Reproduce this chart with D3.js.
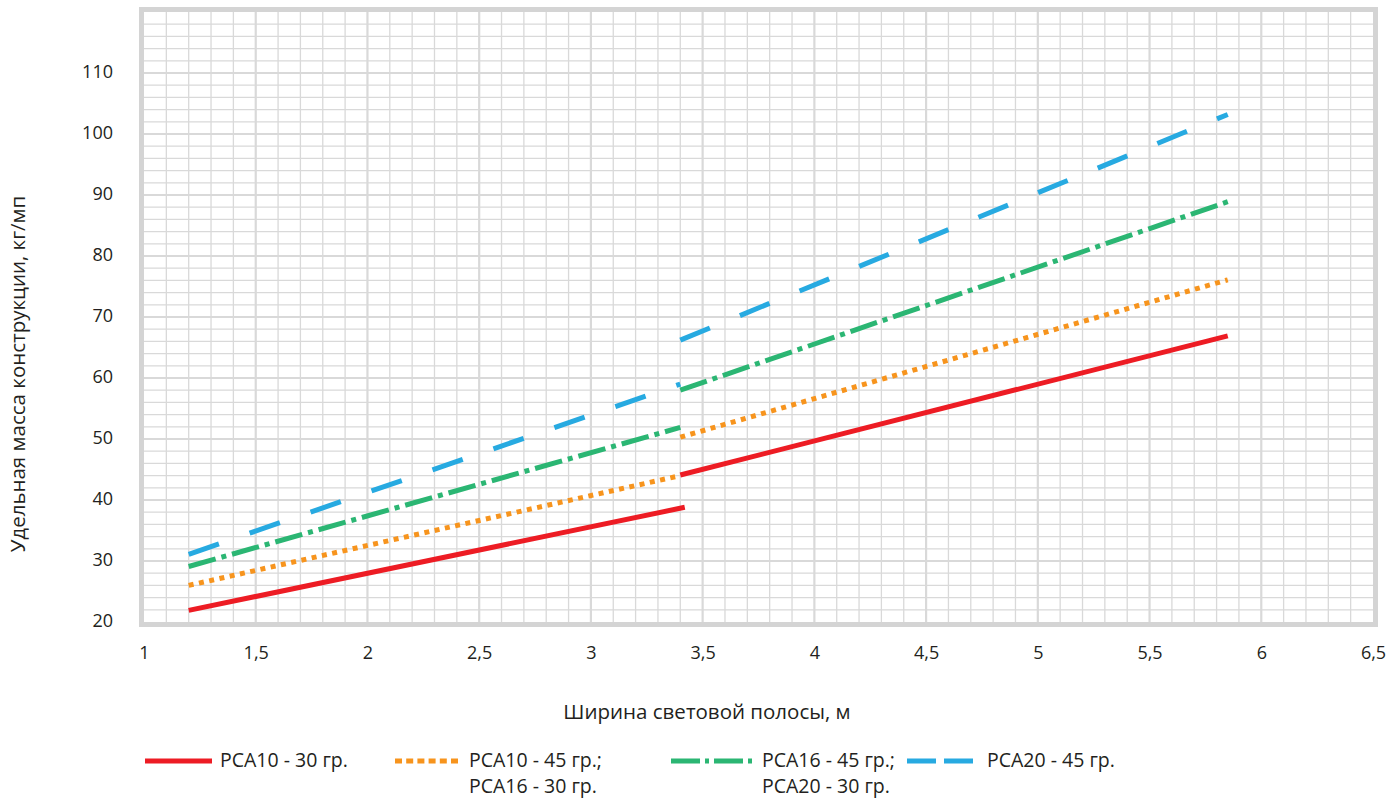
<!DOCTYPE html>
<html>
<head>
<meta charset="utf-8">
<script src="https://d3js.org/d3.v7.min.js"></script>
<style>
body {margin: 0; background: #fff;}
text {font-family: 'Open Sans', sans-serif; fill: #231f20;}
</style>
</head>
<body>
<script>
// x positions of the two segments of each curve
var xSegA = [1.2, 3.4];
var xSegB = [3.4, 5.85];
var xSegRedA = [1.2, 3.42];

// values, kg/mp
var redA = [21.9, 38.8], redB = [44.1, 66.9];
var orangeA = [26.0, 44.0], orangeB = [50.3, 76.1];
var greenA = [29.1, 51.9], greenB = [58.0, 88.9];
var blueA = [31.1, 59.0], blueB = [66.2, 103.2];

var xTicks = [1, 1.5, 2, 2.5, 3, 3.5, 4, 4.5, 5, 5.5, 6, 6.5];
var yTicks = [20, 30, 40, 50, 60, 70, 80, 90, 100, 110];

var legendLabels = [
  ['PCA10 - 30 гр.'],
  ['PCA10 - 45 гр.;', 'PCA16 - 30 гр.'],
  ['PCA16 - 45 гр.;', 'PCA20 - 30 гр.'],
  ['PCA20 - 45 гр.']
];

var colors = ['#ed1c24', '#f7941d', '#2bb673', '#27aae1'];
var dashes = [null, '5,5.5', '28,6,5,6', '32,32.5'];
var legendDashes = [null, '7,4.2', '29,5,4,5', '29,8'];

var x = d3.scaleLinear().domain([1, 6.5]).range([144, 1373]);
var y = d3.scaleLinear().domain([20, 120]).range([622, 12]);

var svg = d3.select('body').append('svg')
  .attr('width', 1390)
  .attr('height', 798);

// grid
var grid = svg.append('g');
grid.selectAll('.vx')
  .data(d3.range(11, 65).map(function(d){return d / 10;}))
  .enter().append('line')
  .attr('x1', function(d){return x(d);}).attr('x2', function(d){return x(d);})
  .attr('y1', y(120)).attr('y2', y(20))
  .attr('stroke', '#d9d9d9')
  .attr('stroke-width', function(d){return Math.abs(d * 2 - Math.round(d * 2)) < 1e-6 ? 2.2 : 1.3;});
grid.selectAll('.hy')
  .data(d3.range(22, 120, 2))
  .enter().append('line')
  .attr('y1', function(d){return y(d);}).attr('y2', function(d){return y(d);})
  .attr('x1', x(1)).attr('x2', x(6.5))
  .attr('stroke', '#d9d9d9')
  .attr('stroke-width', function(d){return d % 10 === 0 ? 2.2 : 1.3;});

// frame
svg.append('rect')
  .attr('x', x(1) - 2.5).attr('y', y(120) - 2.5)
  .attr('width', x(6.5) - x(1) + 5).attr('height', y(20) - y(120) + 5)
  .attr('fill', 'none').attr('stroke', '#d4d4d4').attr('stroke-width', 5);

// curves
var line = d3.line()
  .x(function(d){return x(d[0]);})
  .y(function(d){return y(d[1]);});

var segs = [
  [d3.zip(xSegRedA, redA), d3.zip(xSegB, redB)],
  [d3.zip(xSegA, orangeA), d3.zip(xSegB, orangeB)],
  [d3.zip(xSegA, greenA), d3.zip(xSegB, greenB)],
  [d3.zip(xSegA, blueA), d3.zip(xSegB, blueB)]
];

segs.forEach(function(pair, i) {
  svg.append('g').selectAll('path')
    .data(pair)
    .enter().append('path')
    .attr('d', line)
    .attr('fill', 'none')
    .attr('stroke', colors[i])
    .attr('stroke-width', 5)
    .attr('stroke-dasharray', dashes[i]);
});

// axes
var fmt = function(d){return String(d).replace('.', ',');};

svg.append('g')
  .attr('transform', 'translate(113,0)')
  .call(d3.axisLeft(y).tickValues(yTicks).tickFormat(fmt).tickSize(0).tickPadding(0))
  .call(function(g){ g.select('.domain').remove(); })
  .selectAll('text')
  .style('font-size', '18px')
  .attr('dy', '0.25em');

svg.append('g')
  .attr('transform', 'translate(0,' + 622 + ')')
  .call(d3.axisBottom(x).tickValues(xTicks).tickFormat(fmt).tickSize(0).tickPadding(24))
  .call(function(g){ g.select('.domain').remove(); })
  .selectAll('text')
  .style('font-size', '18px');

svg.selectAll('.tick text').attr('fill', '#231f20').attr('font-family', null);

// axis titles
svg.append('text')
  .attr('x', 707).attr('y', 719)
  .style('text-anchor', 'middle')
  .style('font-size', '20.5px')
  .text('Ширина световой полосы, м');

svg.append('text')
  .attr('transform', 'translate(25,374)rotate(-90)')
  .style('text-anchor', 'middle')
  .style('font-size', '20.5px')
  .text('Удельная масса конструкции, кг/мп');

// legend
var legX = [[145, 212], [395, 460], [671, 757], [907, 973]];
var legTextX = [220, 469, 762, 987];

legendLabels.forEach(function(lines, i) {
  svg.append('line')
    .attr('x1', legX[i][0]).attr('x2', legX[i][1])
    .attr('y1', 761).attr('y2', 761)
    .attr('stroke', colors[i])
    .attr('stroke-width', 5)
    .attr('stroke-dasharray', legendDashes[i]);
  svg.append('g').selectAll('text')
    .data(lines)
    .enter().append('text')
    .attr('x', legTextX[i])
    .attr('y', function(d, j){return 767 + j * 25.5;})
    .style('font-size', '19.5px')
    .text(function(d){return d;});
});
</script>
</body>
</html>
